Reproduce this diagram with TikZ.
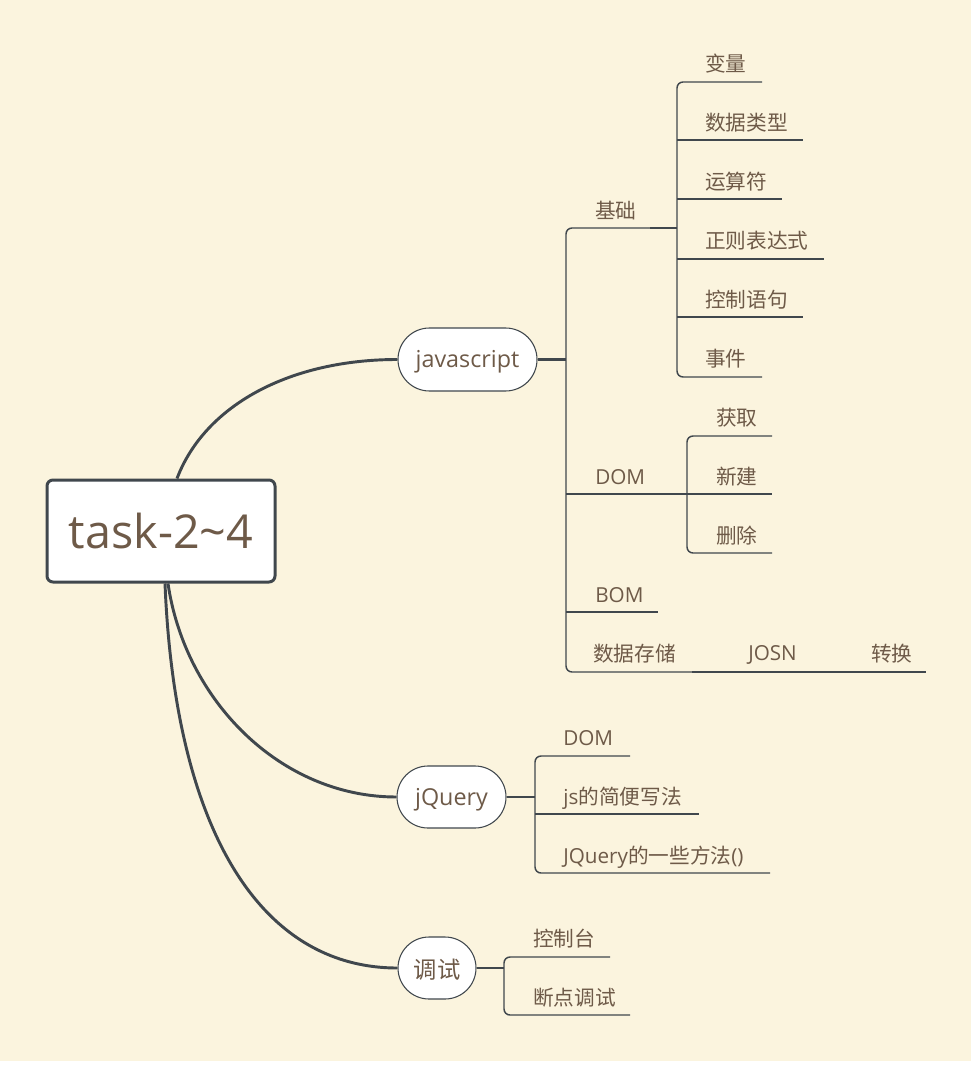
\documentclass[tikz,border=0pt]{standalone}
\usepackage{fontspec}
\setmainfont{Open Sans}
\newfontfamily\cjk{Noto Sans CJK SC}
\usetikzlibrary{shapes.misc}
\definecolor{bgc}{RGB}{251,244,222}
\definecolor{lc}{RGB}{64,71,77}
\definecolor{tc}{RGB}{110,90,72}
\begin{document}
\begin{tikzpicture}[x=0.75pt,y=-0.75pt,
  branch/.style={draw=lc,line width=2.2pt},
  thin/.style={draw=lc,line width=1.1pt},
  thick/.style={draw=lc,line width=1.6pt},
  pill/.style={rounded rectangle,draw=lc,line width=0.8pt,fill=white,text=tc,inner sep=0pt,font=\fontsize{17.5pt}{20pt}\selectfont},
  leaf/.style={anchor=west,text=tc,inner sep=0pt,font=\fontsize{15.5pt}{17pt}\selectfont}]
\fill[bgc] (0,0) rectangle (971,1061);
\useasboundingbox (0,0) rectangle (976,1069);
% root
\node[draw=lc,line width=2.25pt,rounded corners=4.5pt,fill=white,text=tc,
  minimum width=171pt,minimum height=76.5pt,inner sep=0pt,
  font=\fontsize{35pt}{40pt}\selectfont] (root) at (161,531) {task-2\textasciitilde4};
% main nodes
\node[pill,minimum width=104.25pt,minimum height=47.25pt] (js) at (467.5,359.5) {\raisebox{-6pt}[0pt][0pt]{javascript}};
\node[pill,minimum width=81.75pt,minimum height=46.5pt] (jq) at (451.5,797) {\raisebox{-6.5pt}[0pt][0pt]{jQuery}};
\node[pill,minimum width=58.5pt,minimum height=46.5pt] (ts) at (437,968) {\raisebox{-8pt}[0pt][0pt]{\cjk 调试}};
% main curves
\draw[branch] ([xshift=12pt]root.north) .. controls (205,405) and (290,359.5) .. (js.west);
\draw[branch] ([xshift=5.25pt]root.south) .. controls (185,700) and (280,797) .. (jq.west);
\draw[branch] ([xshift=3pt]root.south) .. controls (175,830) and (260,968) .. (ts.west);

% javascript subtree
\draw[thick] (js.east) -- (566,359.5);
\draw[thin,rounded corners=4.5pt] (650,228) -- (566,228) -- (566,672) -- (692,672);
\draw[thin] (566,494) -- (660,494);
\draw[thin] (566,612) -- (658,612);
\draw[thin] (692,672) -- (817,672) -- (926,672);
\draw[thick] (650,228) -- (677,228);
\draw[thick] (660,494) -- (687,494);
\node[leaf] (jc) at (595,211) {\cjk 基础};
\node[leaf] (dom) at (595,477) {DOM};
\node[leaf] (bom) at (595,595) {BOM};
\node[leaf] (sj) at (593,654) {\cjk 数据存储};
\node[leaf] (josn) at (748,655) {JOSN};
\node[leaf] (zh) at (871,654) {\cjk 转换};
% 基础 children
\draw[thin,rounded corners=4.5pt] (762,82) -- (677,82) -- (677,377) -- (762,377);
\draw[thin] (677,140) -- (803,140);
\draw[thin] (677,199) -- (782,199);
\draw[thin] (677,259) -- (824,259);
\draw[thin] (677,317) -- (803,317);
\node[leaf] (a1) at (705,64) {\cjk 变量};
\node[leaf] (a2) at (705,123) {\cjk 数据类型};
\node[leaf] (a3) at (705,182) {\cjk 运算符};
\node[leaf] (a4) at (705,241) {\cjk 正则表达式};
\node[leaf] (a5) at (705,300) {\cjk 控制语句};
\node[leaf] (a6) at (705,359) {\cjk 事件};
% DOM children
\draw[thin,rounded corners=4.5pt] (772,436) -- (687,436) -- (687,553) -- (772,553);
\draw[thin] (687,494) -- (772,494);
\node[leaf] (b1) at (716,418) {\cjk 获取};
\node[leaf] (b2) at (716,477) {\cjk 新建};
\node[leaf] (b3) at (716,536) {\cjk 删除};

% jQuery subtree
\draw[thick] (jq.east) -- (535,797);
\draw[thin,rounded corners=4.5pt] (630,756) -- (535,756) -- (535,873) -- (770,873);
\draw[thin] (535,814) -- (699,814);
\node[leaf] (c1) at (563,738) {DOM};
\node[leaf] (c2) at (563,798) {js{\cjk 的简便写法}};
\node[leaf] (c3) at (563,857) {JQuery{\cjk 的一些方法}()};

% 调试 subtree
\draw[thick] (ts.east) -- (504,968);
\draw[thin,rounded corners=4.5pt] (610,957) -- (504,957) -- (504,1015) -- (630,1015);
\node[leaf] (d1) at (533,939) {\cjk 控制台};
\node[leaf] (d2) at (533,998) {\cjk 断点调试};
\end{tikzpicture}
\end{document}
